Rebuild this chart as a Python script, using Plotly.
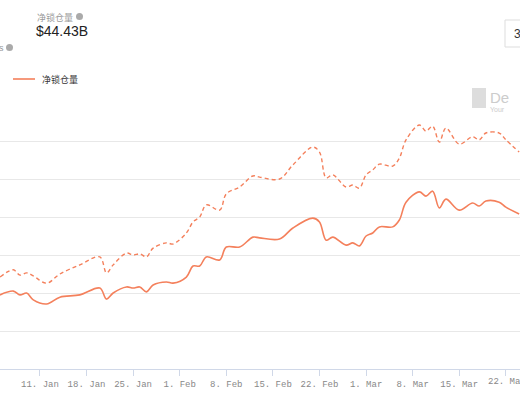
import plotly.graph_objects as go

dates = ['2021-01-05', '2021-01-07', '2021-01-08', '2021-01-09', '2021-01-10', '2021-01-12',
         '2021-01-14', '2021-01-17', '2021-01-20', '2021-01-21', '2021-01-22', '2021-01-24',
         '2021-01-25', '2021-01-26', '2021-01-27', '2021-01-28', '2021-01-30', '2021-01-31',
         '2021-02-02', '2021-02-03', '2021-02-04', '2021-02-05', '2021-02-07', '2021-02-08',
         '2021-02-10', '2021-02-12', '2021-02-13', '2021-02-16', '2021-02-18', '2021-02-21',
         '2021-02-22', '2021-02-23', '2021-02-24', '2021-02-26', '2021-02-27', '2021-02-28',
         '2021-03-01', '2021-03-02', '2021-03-03', '2021-03-05', '2021-03-06', '2021-03-07',
         '2021-03-09', '2021-03-10', '2021-03-11', '2021-03-12', '2021-03-13', '2021-03-15',
         '2021-03-17', '2021-03-18', '2021-03-19', '2021-03-21', '2021-03-22', '2021-03-24']

net_locked = [19.5, 20.5, 19.5, 20.0, 18.2, 17.1, 18.9, 19.5, 21.3, 18.4, 20.0, 21.6,
              21.3, 21.6, 20.3, 22.1, 22.9, 22.6, 24.2, 27.1, 27.1, 29.5, 28.7, 32.1,
              32.1, 34.7, 34.5, 34.2, 37.1, 39.7, 38.7, 33.9, 34.7, 32.6, 33.2, 32.4,
              35.0, 35.8, 37.4, 37.4, 39.2, 43.9, 46.6, 45.5, 46.8, 42.4, 44.7, 41.8,
              43.7, 42.9, 44.2, 43.9, 42.6, 40.8]

total_locked = [24.2, 26.1, 24.7, 25.3, 24.5, 22.6, 25.0, 27.4, 29.5, 25.3, 27.4, 30.5,
                30.0, 30.3, 29.5, 31.8, 33.2, 32.9, 35.8, 38.7, 40.0, 43.2, 41.8, 46.1,
                47.9, 50.8, 50.5, 50.0, 53.7, 58.4, 57.1, 50.3, 51.1, 47.9, 48.4, 47.6,
                51.1, 52.4, 53.9, 53.4, 55.5, 60.3, 64.2, 62.6, 63.9, 59.7, 63.4, 59.2,
                61.1, 60.3, 62.1, 62.1, 60.3, 57.1]

color = '#f4805c'

fig = go.Figure()
fig.add_trace(go.Scatter(x=dates, y=total_locked, mode='lines', line_shape='spline',
                         line=dict(color=color, width=1.4, dash='4px,3px'), showlegend=False))
fig.add_trace(go.Scatter(x=dates, y=net_locked, mode='lines', line_shape='spline',
                         line=dict(color=color, width=1.6), showlegend=False))

fig.update_xaxes(range=['2021-01-05', '2021-03-24 03:00'], type='date',
                 tick0='2021-01-11', dtick=7 * 86400000, tickformat='%-d. %b',
                 ticks='outside', ticklen=6, tickcolor='#d0d8e8',
                 showline=True, linecolor='#d0d8e8', showgrid=False, zeroline=False,
                 tickfont=dict(family='Liberation Mono', size=9, color='#888'))
fig.update_yaxes(range=[0, 70], dtick=10, showgrid=True, gridcolor='#e8e8e8',
                 showticklabels=False, zeroline=False)


# pixel -> paper coords (plot area spans x 0..520, y 103..369)
def py(p):
    return (369 - p) / 266


def px(p):
    return p / 520


ann = [
    dict(x=35, y=17, text='净锁仓量', size=9, color='#999', font='Noto Sans CJK SC'),
    dict(x=34, y=31, text='$44.43B', size=14, color='#222', font='Liberation Sans'),
    dict(x=-3, y=48, text='s', size=9, color='#999', font='Liberation Sans'),
    dict(x=40, y=79, text='净锁仓量', size=9, color='#333', font='Noto Sans CJK SC'),
    dict(x=488, y=97, text='De', size=15, color='#ccc', font='Liberation Sans'),
    dict(x=488, y=109, text='Your', size=7, color='#ccc', font='Liberation Sans'),
    dict(x=512, y=34, text='3', size=12, color='#333', font='Liberation Sans'),
    dict(x=486, y=382, text='22. Mar', size=9, color='#888', font='Liberation Mono'),
]
for a in ann:
    fig.add_annotation(x=px(a['x']), y=py(a['y']), xref='paper', yref='paper',
                       text=a['text'], showarrow=False, xanchor='left', yanchor='middle',
                       font=dict(family=a['font'], size=a['size'], color=a['color']))

shapes = [
    dict(type='circle', x0=px(76), x1=px(83), y0=py(20), y1=py(13), fillcolor='#aaa', line_width=0),
    dict(type='circle', x0=px(6), x1=px(13), y0=py(51), y1=py(44), fillcolor='#aaa', line_width=0),
    dict(type='line', x0=px(13), x1=px(35), y0=py(79), y1=py(79), line=dict(color=color, width=1.6)),
    dict(type='rect', x0=px(505), x1=px(530), y0=py(47), y1=py(20), line=dict(color='#ddd', width=1)),
    dict(type='rect', x0=px(472), x1=px(486), y0=py(108), y1=py(88), fillcolor='#ddd', line_width=0),
]
for s in shapes:
    fig.add_shape(xref='paper', yref='paper', **s)

fig.update_layout(width=520, height=400, margin=dict(l=0, r=0, t=103, b=31),
                  plot_bgcolor='white', paper_bgcolor='white', showlegend=False)

fig.write_html('out.html', config={'displayModeBar': False},
               post_script="document.body.style.margin='0';")
